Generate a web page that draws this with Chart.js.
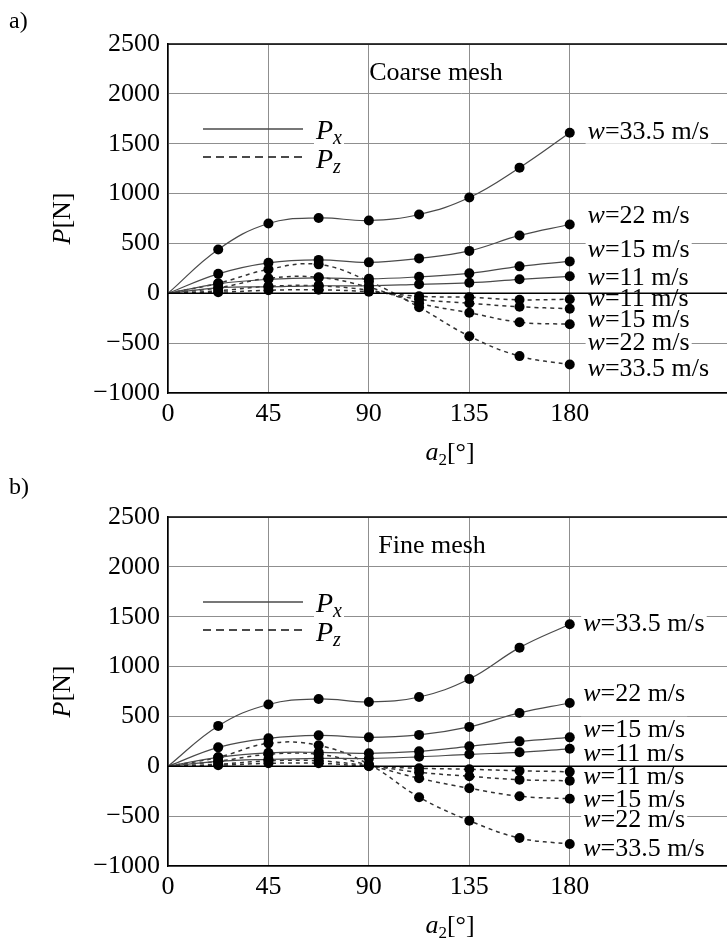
<!DOCTYPE html>
<html>
<head>
<meta charset="utf-8">
<script src="https://cdn.jsdelivr.net/npm/chart.js@4.4.0/dist/chart.umd.min.js"></script>
<style>
  html, body { margin: 0; padding: 0; background: #fff; overflow: hidden; width: 727px; height: 939px; }
  canvas { position: absolute; left: 0; }
  #coarse { top: 0; }
  #fine { top: 466px; }
</style>
</head>
<body>
<canvas id="coarse" width="760" height="470"></canvas>
<canvas id="fine" width="760" height="473"></canvas>
<script>
const angles = [0, 22.5, 45, 67.5, 90, 112.5, 135, 157.5, 180];
const speeds = ['33.5', '22', '15', '11'];
const xTicks = [0, 45, 90, 135, 180];
const yTicks = [-1000, -500, 0, 500, 1000, 1500, 2000, 2500];

// coarse mesh: Px solid, Pz dashed
const coarsePx335 = [0, 440, 700, 755, 730, 790, 960, 1260, 1610];
const coarsePx22  = [0, 195, 305, 335, 310, 350, 425, 580, 690];
const coarsePx15  = [0, 95, 140, 155, 145, 165, 200, 270, 320];
const coarsePx11  = [0, 55, 65, 75, 75, 90, 105, 140, 170];
const coarsePz335 = [0, 100, 240, 290, 120, -140, -430, -630, -715];
const coarsePz22  = [0, 55, 150, 160, 60, -100, -195, -290, -310];
const coarsePz15  = [0, 25, 70, 75, 30, -60, -100, -135, -155];
const coarsePz11  = [0, 10, 30, 35, 15, -30, -40, -65, -60];

// fine mesh
const finePx335 = [0, 405, 620, 675, 645, 695, 875, 1190, 1425];
const finePx22  = [0, 190, 280, 310, 290, 315, 395, 535, 635];
const finePx15  = [0, 90, 135, 140, 130, 150, 200, 250, 290];
const finePx11  = [0, 50, 70, 80, 78, 95, 120, 140, 175];
const finePz335 = [0, 90, 230, 210, 20, -310, -545, -720, -780];
const finePz22  = [0, 50, 120, 120, 10, -120, -220, -300, -325];
const finePz15  = [0, 20, 55, 55, 5, -60, -100, -135, -145];
const finePz11  = [0, 10, 30, 30, 0, -20, -30, -45, -55];

const SERIF = '"Liberation Serif", "Times New Roman", serif';
const LINE = '#4a4a4a';
const DASH = '#333';
const GRID = '#8f8f8f';

function font(size, italic) {
  return (italic ? 'italic ' : '') + size + 'px ' + SERIF;
}

function partsWidth(ctx, parts) {
  let w = 0;
  parts.forEach(p => { ctx.font = font(p.size || 26, p.italic); w += ctx.measureText(p.t).width; });
  return w;
}

function drawParts(ctx, x, y, parts, align) {
  const w = partsWidth(ctx, parts);
  let cx = align === 'center' ? x - w / 2 : x;
  parts.forEach(p => {
    ctx.font = font(p.size || 26, p.italic);
    ctx.fillText(p.t, cx, y + (p.dy || 0));
    cx += ctx.measureText(p.t).width;
  });
  return w;
}

function whiteBox(ctx, x, base, w) {
  ctx.save();
  ctx.fillStyle = '#fff';
  ctx.fillRect(x - 2, base - 20, w + 4, 25);
  ctx.restore();
}

function toPoints(vals) {
  return angles.map((a, i) => ({ x: a, y: vals[i] }));
}

function lineSet(vals, dashed) {
  return {
    data: toPoints(vals), borderColor: dashed ? DASH : LINE, borderWidth: dashed ? 1.5 : 1.2,
    borderDash: dashed ? [4, 4] : [], pointRadius: 0, tension: 0.4, fill: false, order: 1
  };
}

function pointSet(vals) {
  return {
    data: toPoints(vals), showLine: false, order: 0,
    pointRadius: ctx => ctx.dataIndex === 0 ? 0 : 5,
    pointBackgroundColor: '#000', pointBorderColor: '#000', pointBorderWidth: 0
  };
}

function makePanel(id, cfg) {
  const curves = cfg.px.map(v => lineSet(v, false))
    .concat(cfg.pz.map(v => lineSet(v, true)))
    .concat(cfg.px.concat(cfg.pz).map(pointSet));
  const labelSpeeds = speeds.concat(speeds.slice().reverse());

  const decor = {
    id: 'decor',
    afterDatasetsDraw(chart) {
      const { ctx, chartArea: a, scales: { x, y } } = chart;
      ctx.save();
      ctx.strokeStyle = '#000';
      ctx.lineWidth = 1.5;
      ctx.beginPath();
      ctx.moveTo(a.left, a.top);
      ctx.lineTo(a.right, a.top);
      ctx.stroke();

      ctx.fillStyle = '#000';
      ctx.textBaseline = 'alphabetic';
      drawParts(ctx, 9, cfg.panelBase, [{ t: cfg.panel, size: 24 }]);
      drawParts(ctx, a.left + cfg.titleDx, a.top + 36, [{ t: cfg.title }], 'center');

      // legend
      const lx0 = a.left + 35, lx1 = a.left + 135;
      ctx.strokeStyle = LINE;
      ctx.lineWidth = 1.3;
      ctx.beginPath(); ctx.moveTo(lx0, a.top + 85); ctx.lineTo(lx1, a.top + 85); ctx.stroke();
      ctx.lineWidth = 1.8;
      ctx.setLineDash([8, 5]);
      ctx.beginPath(); ctx.moveTo(lx0, a.top + 113); ctx.lineTo(lx1, a.top + 113); ctx.stroke();
      ctx.setLineDash([]);
      const px = [{ t: 'P', italic: true, size: 28 }, { t: 'x', italic: true, size: 20, dy: 5 }];
      const pz = [{ t: 'P', italic: true, size: 28 }, { t: 'z', italic: true, size: 20, dy: 5 }];
      whiteBox(ctx, a.left + 148, a.top + 95, partsWidth(ctx, px));
      drawParts(ctx, a.left + 148, a.top + 95, px);
      whiteBox(ctx, a.left + 148, a.top + 124, partsWidth(ctx, pz));
      drawParts(ctx, a.left + 148, a.top + 124, pz);

      // curve labels
      const tx = x.getPixelForValue(cfg.labelX);
      cfg.labelY.forEach((v, i) => {
        const parts = [{ t: 'w', italic: true }, { t: '=' + labelSpeeds[i] + ' m/s' }];
        const base = y.getPixelForValue(v) + 9;
        whiteBox(ctx, tx, base, partsWidth(ctx, parts));
        drawParts(ctx, tx, base, parts);
      });

      // zero line stays on top of the labels
      const y0 = y.getPixelForValue(0);
      ctx.strokeStyle = '#000';
      ctx.lineWidth = 1.5;
      ctx.beginPath(); ctx.moveTo(a.left, y0); ctx.lineTo(a.right, y0); ctx.stroke();

      // axis titles
      ctx.save();
      ctx.translate(63, (a.top + a.bottom) / 2);
      ctx.rotate(-Math.PI / 2);
      ctx.textBaseline = 'middle';
      drawParts(ctx, 0, 0, [{ t: 'P', italic: true }, { t: '[N]' }], 'center');
      ctx.restore();
      drawParts(ctx, 450, a.bottom + 67,
        [{ t: 'a', italic: true }, { t: '2', size: 17, dy: 5 }, { t: '[°]' }], 'center');
      ctx.restore();
    }
  };

  return new Chart(document.getElementById(id), {
    type: 'line',
    data: { datasets: curves },
    plugins: [decor],
    options: {
      responsive: false,
      animation: false,
      devicePixelRatio: 1,
      layout: { padding: { top: cfg.top, left: 0, right: 0, bottom: 0 } },
      plugins: { legend: { display: false }, tooltip: { enabled: false } },
      scales: {
        x: {
          type: 'linear', min: 0, max: 263,
          afterBuildTicks: s => { s.ticks = xTicks.map(v => ({ value: v })); },
          afterFit: s => { s.height = cfg.xHeight; },
          grid: { color: GRID, lineWidth: 1, drawTicks: false },
          border: { color: '#000', width: 1.5 },
          ticks: { color: '#000', font: { family: SERIF, size: 26 }, padding: 6, maxRotation: 0, autoSkip: false }
        },
        y: {
          type: 'linear', min: -1000, max: 2500,
          afterBuildTicks: s => { s.ticks = yTicks.map(v => ({ value: v })); },
          afterFit: s => { s.width = 168; },
          grid: { color: GRID, lineWidth: 1, drawTicks: false },
          border: { color: '#000', width: 1.5 },
          ticks: {
            color: '#000', font: { family: SERIF, size: 26 }, padding: 8,
            callback: v => v < 0 ? '\u2212' + Math.abs(v) : String(v)
          }
        }
      }
    }
  });
}

makePanel('coarse', {
  panel: 'a)', panelBase: 28, title: 'Coarse mesh', titleDx: 268, top: 44, xHeight: 77,
  px: [coarsePx335, coarsePx22, coarsePx15, coarsePx11],
  pz: [coarsePz11, coarsePz15, coarsePz22, coarsePz335],
  labelX: 188, labelY: [1640, 800, 458, 178, -33, -244, -475, -735]
});

makePanel('fine', {
  panel: 'b)', panelBase: 28, title: 'Fine mesh', titleDx: 264, top: 51, xHeight: 73,
  px: [finePx335, finePx22, finePx15, finePx11],
  pz: [finePz11, finePz15, finePz22, finePz335],
  labelX: 186, labelY: [1449, 747, 386, 145, -85, -316, -517, -808]
});
</script>
</body>
</html>
